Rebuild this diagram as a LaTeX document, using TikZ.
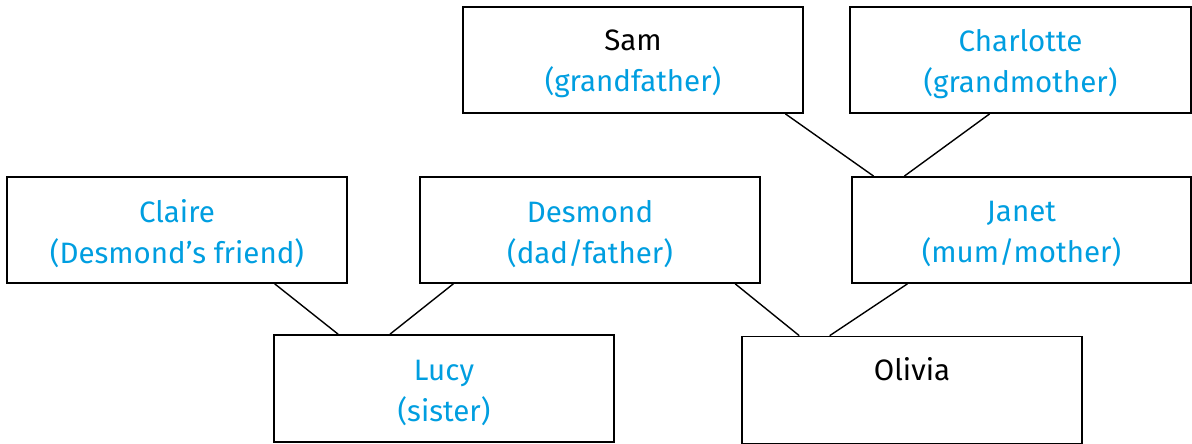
\documentclass[tikz,border=0pt]{standalone}
\usepackage{fontspec}
\setmainfont{Fira Sans}
\usetikzlibrary{calc}
\definecolor{relblue}{RGB}{0,158,224}
\tikzset{
  person/.style={draw=black, line width=1.7pt, minimum width=340pt, minimum height=106pt,
    inner sep=0pt, align=center, font=\fontsize{29.5}{41}\selectfont},
  link/.style={draw=black, line width=1.4pt},
  textshift/.style={yshift=-4pt},
}
\begin{document}
\begin{tikzpicture}[x=1pt,y=-1pt]
\useasboundingbox (0,0) rectangle (1192,444);
\node[person] (sam) at (633,60) {};
\node[person, minimum width=341pt] (charlotte) at (1020.5,60) {};
\node[person] (claire) at (177,230) {};
\node[person] (desmond) at (590,230) {};
\node[person, minimum width=339pt] (janet) at (1021.5,230) {};
\node[person, minimum height=107pt] (lucy) at (444,388.5) {};
\node[person, minimum height=107pt] (olivia) at (912,390) {};
\node[person, draw=none, minimum width=0pt, minimum height=0pt, textshift] (samtxt) at (sam.center) {Sam\\\textcolor{relblue}{(grandfather)}};
\node[person, draw=none, minimum width=0pt, minimum height=0pt, textshift] (charlottetxt) at (charlotte.center) {\textcolor{relblue}{Charlotte}\\\textcolor{relblue}{(grandmother)}};
\node[person, draw=none, minimum width=0pt, minimum height=0pt, textshift] (clairetxt) at (claire.center) {\textcolor{relblue}{Claire}\\\textcolor{relblue}{(Desmond’s friend)}};
\node[person, draw=none, minimum width=0pt, minimum height=0pt, textshift] (desmondtxt) at (desmond.center) {\textcolor{relblue}{Desmond}\\\textcolor{relblue}{(dad/father)}};
\node[person, draw=none, minimum width=0pt, minimum height=0pt, textshift] (janettxt) at (janet.center) {\textcolor{relblue}{Janet}\\\textcolor{relblue}{(mum/mother)}};
\node[person, draw=none, minimum width=0pt, minimum height=0pt, textshift] (lucytxt) at (lucy.center) {\textcolor{relblue}{Lucy}\\\textcolor{relblue}{(sister)}};
\node[person, draw=none, minimum width=0pt, minimum height=0pt, anchor=base] (oliviatxt) at ($(olivia.north)+(0,45)$) {Olivia};
\draw[link] ($(claire.south west)!0.786!(claire.south east)$) -- ($(lucy.north west)!0.19!(lucy.north east)$);
\draw[link] ($(desmond.south west)!0.10!(desmond.south east)$) -- ($(lucy.north west)!0.342!(lucy.north east)$);
\draw[link] ($(sam.south west)!0.946!(sam.south east)$) -- ($(janet.north west)!0.066!(janet.north east)$);
\draw[link] ($(charlotte.south west)!0.41!(charlotte.south east)$) -- ($(janet.north west)!0.156!(janet.north east)$);
\draw[link] ($(desmond.south west)!0.925!(desmond.south east)$) -- ($(olivia.north west)!0.17!(olivia.north east)$);
\draw[link] ($(janet.south west)!0.165!(janet.south east)$) -- ($(olivia.north west)!0.259!(olivia.north east)$);
\end{tikzpicture}
\end{document}
